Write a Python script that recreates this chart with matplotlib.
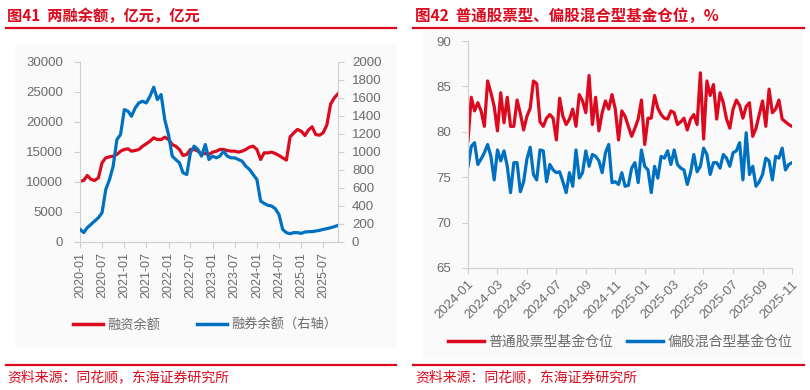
import numpy as np
import pandas as pd
import matplotlib
matplotlib.use("Agg")
import matplotlib.pyplot as plt
import matplotlib.dates as mdates
from matplotlib.lines import Line2D
from matplotlib.patches import Rectangle

plt.rcParams['font.family'] = ['Liberation Sans', 'Noto Sans CJK SC', 'DejaVu Sans']

RED = '#DC0A1E'
BLUE = '#0070C0'
GRAY = '#6b6b6b'
SPINE = '#d0d0d0'

# ---- 图41 data (monthly, 2020-01 .. 2025-11) ----
margin_dates = pd.date_range('2020-01-01', '2025-11-01', freq='MS')
financing = [10150, 10260, 11090, 10430, 10260, 10700, 13200, 14030, 14200, 14310,
             14590, 15140, 15420, 15530, 15140, 15250, 15420, 15970, 16360, 16800,
             17360, 17080, 17080, 17470, 17080, 16250, 15970, 15420, 14420, 14590,
             15420, 15420, 15140, 14700, 14750, 14590, 14980, 15140, 15420, 15420,
             15250, 15140, 15140, 14980, 15140, 15420, 15810, 15970, 15420, 13750,
             14860, 14860, 14980, 14750, 14420, 14030, 13650, 17500, 18190, 18750,
             18470, 17750, 18640, 19200, 17910, 17800, 18190, 19500, 23000, 24010,
             24700]
lending = [140, 105, 159, 196, 233, 270, 325, 584, 695, 843,
           1139, 1194, 1471, 1453, 1397, 1490, 1545, 1564, 1545, 1619,
           1720, 1582, 1638, 1360, 1194, 954, 917, 880, 769, 750,
           991, 1065, 1028, 954, 1083, 917, 954, 935, 954, 1009,
           954, 935, 935, 917, 898, 843, 806, 750, 695, 455,
           429, 407, 400, 370, 307, 140, 104, 92, 104, 104,
           96, 111, 115, 115, 122, 129, 140, 148, 159, 170,
           185]

# ---- 图42 data (weekly, 2024-01 .. 2025-11) ----
stock_fund = [79.0, 83.8, 82.3, 83.2, 82.3, 80.6, 85.6, 84.3, 82.8, 80.1,
              84.3, 81.0, 83.8, 80.6, 80.6, 83.5, 82.0, 80.2, 81.7, 82.6,
              85.6, 85.3, 81.1, 80.6, 81.5, 81.9, 81.5, 79.1, 83.7, 81.7,
              80.8, 81.4, 82.5, 80.6, 84.1, 83.4, 82.1, 86.2, 80.8, 83.8,
              80.1, 82.1, 83.4, 82.5, 84.1, 82.5, 79.1, 82.3, 81.7, 80.6,
              79.5, 80.4, 81.4, 83.5, 78.6, 81.5, 81.5, 84.0, 82.6, 81.9,
              81.5, 81.4, 82.3, 82.1, 80.8, 81.1, 81.5, 80.2, 81.4, 81.9,
              80.8, 86.5, 79.2, 85.6, 84.0, 85.2, 81.4, 84.3, 83.2, 81.4,
              80.4, 82.5, 83.5, 82.9, 81.5, 82.8, 83.2, 79.5, 80.4, 81.9,
              83.4, 80.6, 84.7, 82.1, 82.5, 83.5, 81.4, 81.1, 80.8, 80.6]
mixed_fund = [76.2, 78.4, 78.8, 76.4, 77.0, 77.7, 78.6, 77.3, 74.7, 78.0,
              76.8, 77.9, 76.2, 73.3, 76.6, 76.6, 73.4, 74.5, 77.0, 78.3,
              75.3, 74.7, 78.0, 77.9, 74.5, 76.4, 75.8, 75.5, 75.6, 74.5,
              73.3, 75.5, 74.0, 78.0, 74.9, 75.5, 77.9, 76.2, 77.5, 77.3,
              76.8, 75.5, 77.7, 78.6, 74.4, 74.5, 74.2, 75.5, 74.0, 74.1,
              76.0, 76.6, 74.4, 78.0, 76.2, 75.8, 73.3, 76.2, 74.9, 77.3,
              77.1, 77.9, 76.4, 78.0, 76.4, 76.0, 75.8, 74.2, 75.5, 77.5,
              75.6, 76.2, 78.2, 77.5, 75.3, 76.6, 76.6, 76.0, 77.5, 77.1,
              76.2, 77.7, 77.9, 78.8, 74.7, 79.9, 75.3, 76.2, 74.0, 74.5,
              75.3, 77.1, 76.8, 74.7, 77.3, 77.1, 78.2, 75.8, 76.4, 76.6]
fund_dates = pd.date_range('2024-01-01', '2025-11-01', periods=len(stock_fund))

W, H = 810, 390
fig = plt.figure(figsize=(W / 100, H / 100), dpi=100)


def px(x0, y0, x1, y1):
    # pixel box (top-left origin) -> figure fraction rect
    return [x0 / W, 1 - y1 / H, (x1 - x0) / W, (y1 - y0) / H]


def hline(x0, x1, y, lw=1.6):
    fig.add_artist(Line2D([x0 / W, x1 / W], [1 - y / H, 1 - y / H], color=RED, lw=lw,
                          transform=fig.transFigure))


# very faint chart-area boxes
fig.add_artist(Rectangle((15 / W, 1 - 346 / H), (396 - 15) / W, (346 - 45) / H,
                         transform=fig.transFigure, color='#fafafa', zorder=0))
fig.add_artist(Rectangle((423 / W, 1 - 358 / H), (802 - 423) / W, (358 - 30) / H,
                         transform=fig.transFigure, color='#fafafa', zorder=0))

# headers and footers
fig.text(7 / W, 1 - 16 / H, '图41  两融余额，亿元，亿元', color=RED, fontsize=11,
         fontweight='bold', va='center', family=['Noto Sans CJK SC'])
fig.text(415 / W, 1 - 16 / H, '图42  普通股票型、偏股混合型基金仓位，%', color=RED, fontsize=11.2,
         fontweight='bold', va='center', family=['Noto Sans CJK SC'])
hline(6, 396, 27.5)
hline(413, 804, 27.5)
hline(6, 396, 365)
hline(413, 804, 365)
fig.text(7 / W, 1 - 377 / H, '资料来源：同花顺，东海证券研究所', color=RED, fontsize=10,
         va='center', family=['Noto Sans CJK SC'])
fig.text(415 / W, 1 - 377 / H, '资料来源：同花顺，东海证券研究所', color=RED, fontsize=10,
         va='center', family=['Noto Sans CJK SC'])


def style(ax, sides):
    for s in ['left', 'right', 'top', 'bottom']:
        ax.spines[s].set_visible(s in sides)
        ax.spines[s].set_color(SPINE)
    ax.tick_params(colors=SPINE, labelcolor=GRAY, labelsize=9.5, length=4, width=0.8)
    ax.patch.set_alpha(0)


# ---- left chart ----
ax1 = fig.add_axes(px(80, 62, 338, 242))
ax1.plot(margin_dates, financing, color=RED, lw=2.3)
ax1.set_ylim(0, 30000)
ax1.set_yticks(np.arange(0, 30001, 5000))
ax1.set_xlim(margin_dates[0], margin_dates[-1])
ax1.xaxis.set_major_locator(mdates.MonthLocator(bymonth=[1, 7]))
ax1.xaxis.set_major_formatter(mdates.DateFormatter('%Y-%m'))
style(ax1, ['left', 'bottom'])
ax1.tick_params(axis='y', pad=8)
for lab in ax1.get_xticklabels():
    lab.set_rotation(90)
ax1.tick_params(axis='x', labelsize=9)

ax2 = ax1.twinx()
ax2.plot(margin_dates, lending, color=BLUE, lw=2.3)
ax2.set_ylim(0, 2000)
ax2.set_yticks(np.arange(0, 2001, 200))
style(ax2, ['right'])
ax2.tick_params(axis='y', pad=6)

leg1 = [Line2D([], [], color=RED, lw=2.5), Line2D([], [], color=BLUE, lw=2.5)]
fig.legend(leg1, ['融资余额', '融券余额（右轴）'], loc='center', ncol=2,
           bbox_to_anchor=(205 / W, 1 - 325 / H), frameon=False,
           handlelength=2.3, columnspacing=2.8, handletextpad=0.3,
           labelcolor=GRAY, prop={'family': ['Noto Sans CJK SC'], 'size': 9.5})

# ---- right chart ----
ax3 = fig.add_axes(px(468, 41, 792, 268))
ax3.plot(fund_dates, stock_fund, color=RED, lw=2.3)
ax3.plot(fund_dates, mixed_fund, color=BLUE, lw=2.3)
ax3.set_ylim(65, 90)
ax3.set_yticks(np.arange(65, 91, 5))
ax3.set_xlim(pd.Timestamp('2024-01-01'), pd.Timestamp('2025-11-01'))
ax3.xaxis.set_major_locator(mdates.MonthLocator(bymonth=[1, 3, 5, 7, 9, 11]))
ax3.xaxis.set_major_formatter(mdates.DateFormatter('%Y-%m'))
style(ax3, ['left', 'bottom'])
ax3.tick_params(axis='y', pad=8)
for lab in ax3.get_xticklabels():
    lab.set_rotation(45)
    lab.set_ha('right')
    lab.set_rotation_mode('anchor')

fig.legend(leg1, ['普通股票型基金仓位', '偏股混合型基金仓位'], loc='center', ncol=2,
           bbox_to_anchor=(620 / W, 1 - 342 / H), frameon=False,
           handlelength=2.6, columnspacing=1.0, handletextpad=0.3,
           labelcolor=GRAY, prop={'family': ['Noto Sans CJK SC'], 'size': 10})

fig.savefig('out.png', dpi=100)
